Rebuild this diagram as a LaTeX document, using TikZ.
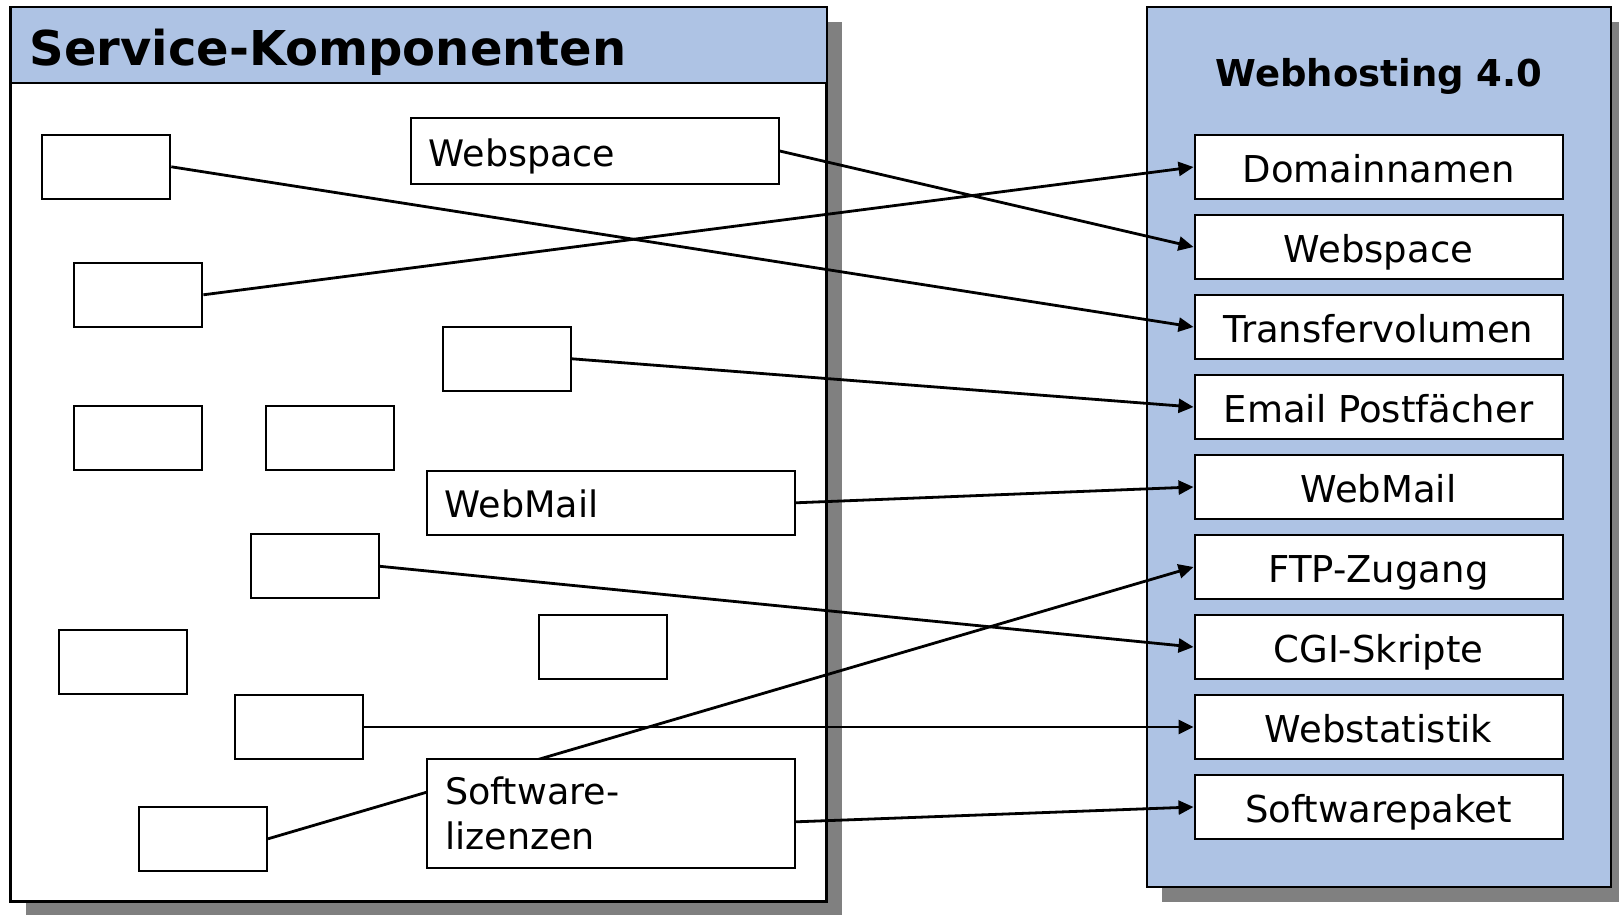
\documentclass[tikz,border=0pt]{standalone}
\usepackage{fontspec}
\setmainfont{DejaVu Sans}
\usetikzlibrary{arrows.meta}
\definecolor{panelblue}{RGB}{174,195,228}
\definecolor{shadowgray}{RGB}{128,128,128}
\tikzset{
	comp/.style={rectangle, draw, fill=white, line width=2pt, minimum width=128pt, minimum height=64pt, inner sep=0pt},
	labelcomp/.style={comp, minimum width=368pt, inner sep=17pt, text width=332pt, align=left, font=\fontsize{36.5}{45}\selectfont},
	oneline/.style={text height=30pt, text depth=0pt},
	feature/.style={rectangle, draw, fill=white, line width=2pt, minimum width=368pt, minimum height=64pt, inner sep=0pt, oneline, font=\fontsize{37}{44}\selectfont},
	link/.style={line width=2.8pt, -{Triangle[length=15pt,width=14pt]}},
}
\begin{document}
\begin{tikzpicture}[x=1pt, y=-1pt]
	\useasboundingbox (0,0) rectangle (1619,915);
	% left panel
	\fill[shadowgray] (26,22) rectangle (842,917);
	\draw[line width=2.2pt, fill=white] (10.5,7.3) rectangle (826.5,901.5);
	\draw[line width=2pt, fill=panelblue] (10.5,7.3) rectangle (826.5,83.3);
	\node[anchor=base west, inner sep=0pt, font=\fontsize{48}{56}\selectfont\bfseries] (servtitle) at (29.5,66) {Service-Komponenten};
	% right panel
	\fill[shadowgray] (1162,22) rectangle (1626,902);
	\draw[line width=2.2pt, fill=panelblue] (1147,7.3) rectangle (1611,886.7);
	\node[anchor=base, inner sep=0pt, font=\fontsize{37}{44}\selectfont\bfseries] (hosttitle) at (1379,86.7) {Webhosting 4.0};

	\node[feature] (domain) at (1378.5,167) {Domainnamen};
	\node[feature] (webspace) at (1378.5,247) {Webspace};
	\node[feature] (transfer) at (1378.5,327) {Transfervolumen};
	\node[feature] (email) at (1378.5,407) {Email Postfächer};
	\node[feature] (webmail) at (1378.5,487) {WebMail};
	\node[feature] (ftp) at (1378.5,567) {FTP-Zugang};
	\node[feature] (cgi) at (1378.5,647) {CGI-Skripte};
	\node[feature] (stats) at (1378.5,727) {Webstatistik};
	\node[feature] (paket) at (1378.5,807) {Softwarepaket};

	% empty components
	\node[comp] (c1) at (106.3,166.8) {};
	\node[comp] (c2) at (138.4,294.8) {};
	\node[comp] (c3) at (507,358.8) {};
	\node[comp] (c4) at (138.4,438.3) {};
	\node[comp] (c5) at (330.4,438.3) {};
	\node[comp] (c6) at (314.9,566.3) {};
	\node[comp] (c7) at (603,646.9) {};
	\node[comp] (c8) at (122.9,662.3) {};
	\node[comp] (c9) at (299.4,727) {};
	\node[comp] (c10) at (203,838.8) {};

	\draw[link] (c10.east) -- (ftp.west);

	\node[labelcomp, oneline, minimum height=65pt] (webspaceL) at (594.7,151) {Webspace};
	\node[labelcomp, oneline, minimum height=64pt] (webmailL) at (610.7,502.8) {WebMail};
	\node[labelcomp, minimum height=109pt] (lizenzen) at (611.2,813.8) {Software-\\lizenzen};

	\draw[link] (c1.east) -- (transfer.west);
	\draw[link] (webspaceL.east) -- (webspace.west);
	\draw[link] (c2.east) -- (domain.west);
	\draw[link] (c3.east) -- (email.west);
	\draw[link] (webmailL.east) -- (webmail.west);
	\draw[link] (c6.east) -- (cgi.west);
	\draw[link] (c9.east) -- (stats.west);
	\draw[link] ([yshift=-8pt]lizenzen.east) -- (paket.west);
\end{tikzpicture}
\end{document}
